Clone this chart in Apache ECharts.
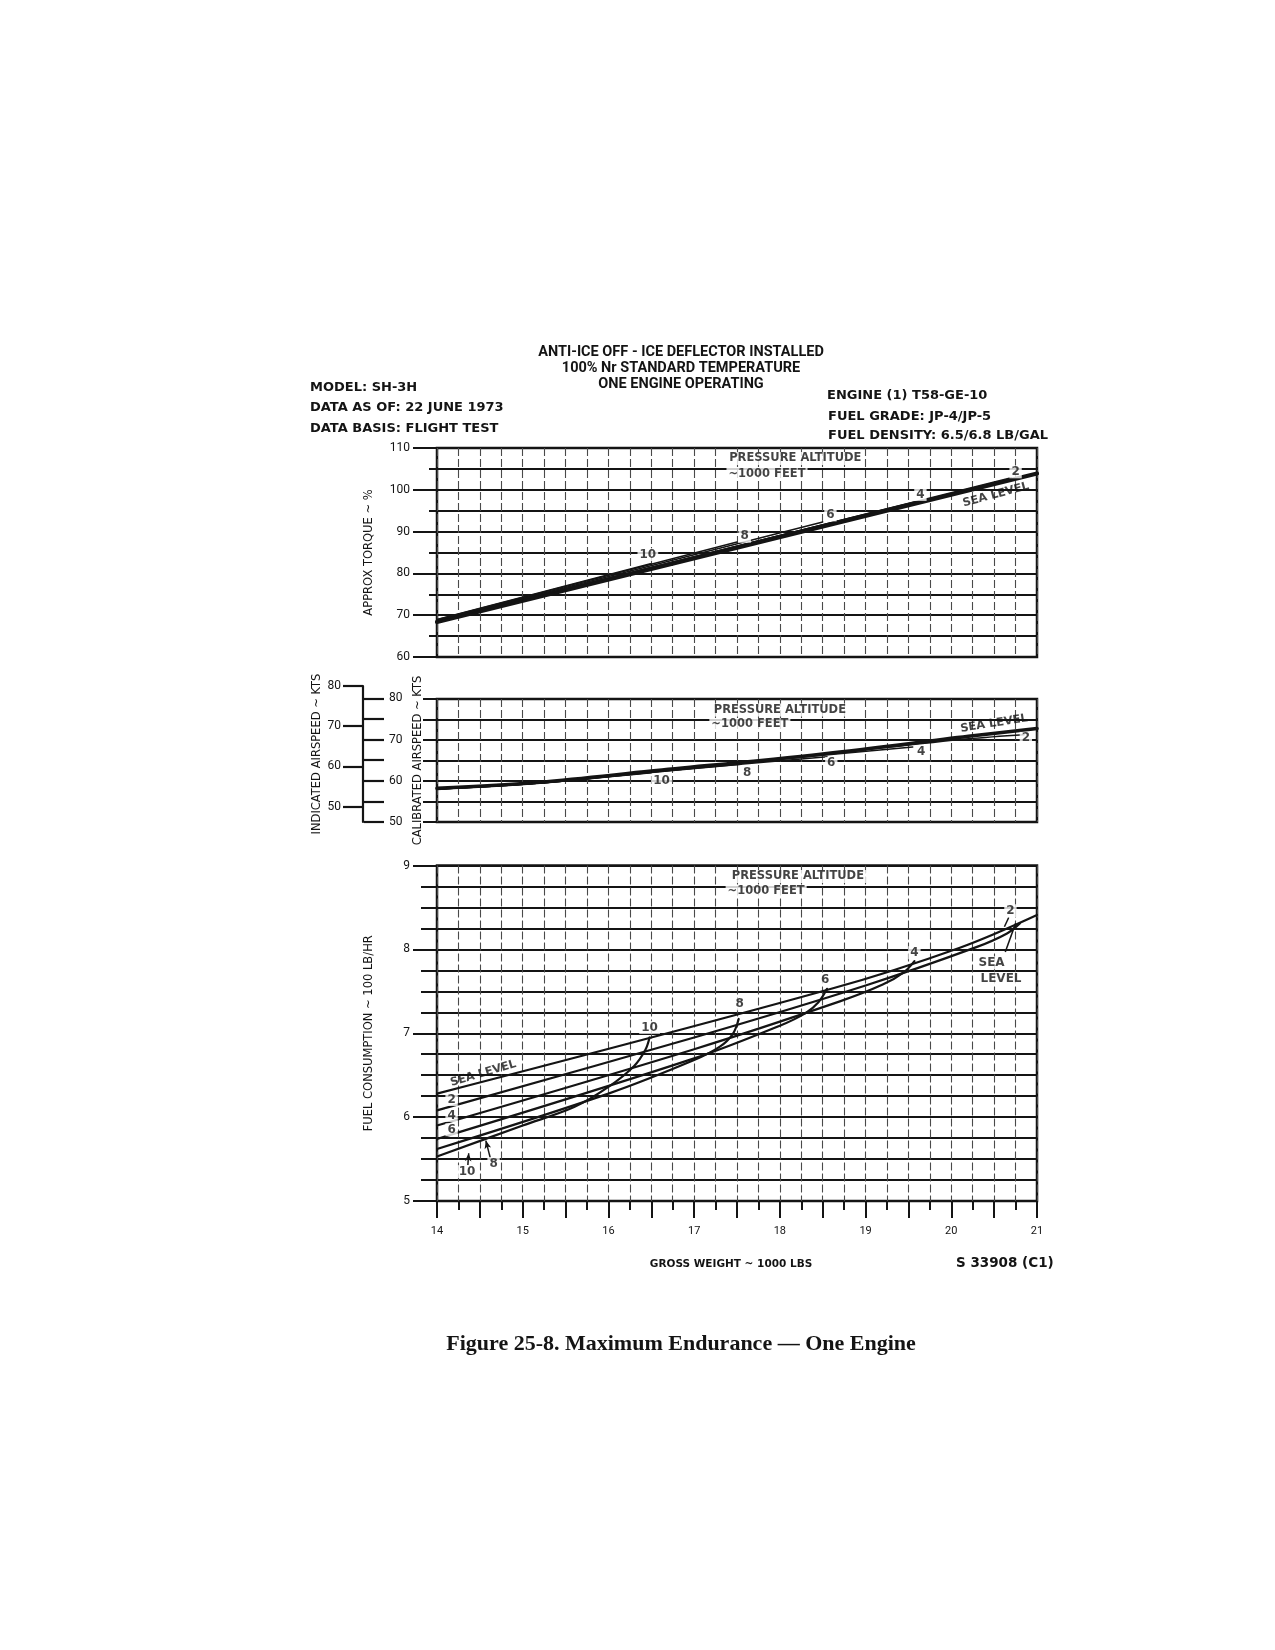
<!DOCTYPE html>
<html><head><meta charset="utf-8">
<script src="https://cdn.jsdelivr.net/npm/echarts@6.0.0/dist/echarts.min.js"></script>
<style>html,body{margin:0;padding:0;background:#fff}#c{width:1275px;height:1650px}</style>
</head><body><div id="c"></div>
<script>
// ================= DATA =================
const weightMin = 14, weightMax = 21;
const weightTicks = [14, 15, 16, 17, 18, 19, 20, 21];

// --- Approx torque (%) vs gross weight (1000 lb)
const torqueSL = [[14, 68.4], [21, 103.9]];
const torque2  = [[14, 68.6], [20.7, 102.9]];
const torque4  = [[14, 68.7], [19.57, 97.1]];
const torque6  = [[14, 68.8], [18.5, 92.3]];
const torque8  = [[14, 68.9], [17.5, 87.5]];
const torque10 = [[14, 69.0], [16.49, 82.3]];

// --- Calibrated airspeed (kts) vs gross weight
const casSL = [[14, 58.2], [15.2, 59.7], [16.5, 62.4], [18.5, 66.6], [20.2, 70.9], [21, 72.8]];
const cas2  = [[14, 58.1], [15.2, 59.6], [16.5, 62.3], [18.5, 66.5], [20.2, 70.3], [20.85, 71.3]];
const cas4  = [[14, 58.1], [15.2, 59.6], [16.5, 62.3], [18.5, 66.3], [19.55, 68.3]];
const cas6  = [[14, 58.0], [15.2, 59.5], [16.5, 62.2], [18.55, 65.9]];
const cas8  = [[14, 58.0], [15.2, 59.5], [16.5, 62.1], [17.55, 64.1]];
const cas10 = [[14, 58.0], [15.2, 59.5], [16.5, 62.0]];

// --- Fuel consumption (100 lb/hr) vs gross weight
const fuelSL = [[14, 6.28], [18.6, 7.53], [20.1, 8.02], [21, 8.41]];
const fuel2  = [[14, 6.08], [17, 6.95], [19, 7.57], [20.3, 8.03], [20.65, 8.19], [20.8, 8.31]];
const fuel4  = [[14, 5.90], [17, 6.81], [18.7, 7.38], [19.2, 7.58], [19.45, 7.73], [19.57, 7.86]];
const fuel6  = [[14, 5.74], [17, 6.70], [18.0, 7.09], [18.3, 7.24], [18.45, 7.37], [18.55, 7.53]];
const fuel8  = [[14, 5.62], [16, 6.28], [17.0, 6.68], [17.3, 6.84], [17.45, 6.99], [17.52, 7.17]];
const fuel10 = [[14, 5.53], [15, 5.90], [15.6, 6.12], [16.0, 6.36], [16.3, 6.61], [16.43, 6.80], [16.48, 6.95]];

// --- airspeed conversion scale
const iasTicks = [50, 60, 70, 80];
const casTicks = [50, 55, 60, 65, 70, 75, 80];
const casLabels = [50, 60, 70, 80];

// --- annotations [x, y, text, rotation]
const torqueNotes = [
  [18.18, 107.5, 'PRESSURE ALTITUDE', 0], [17.85, 103.8, '~1000 FEET', 0],
  [16.46, 84.5, '10', 0], [17.59, 88.9, '8', 0], [18.59, 94.0, '6', 0],
  [19.64, 98.9, '4', 0], [20.75, 104.3, '2', 0], [20.52, 98.8, 'SEA LEVEL', 15]
];
const casNotes = [
  [18.0, 77.3, 'PRESSURE ALTITUDE', 0], [17.65, 73.8, '~1000 FEET', 0],
  [16.62, 60.1, '10', 0], [17.62, 62.0, '8', 0], [18.6, 64.3, '6', 0],
  [19.65, 67.1, '4', 0], [20.87, 70.4, '2', 0], [20.5, 74.0, 'SEA LEVEL', 9]
];
const fuelNotes = [
  [18.21, 8.87, 'PRESSURE ALTITUDE', 0], [17.84, 8.69, '~1000 FEET', 0],
  [16.48, 7.07, '10', 0], [17.53, 7.35, '8', 0], [18.53, 7.64, '6', 0],
  [19.57, 7.96, '4', 0], [20.69, 8.46, '2', 0], [20.47, 7.84, 'SEA', 0], [20.58, 7.65, 'LEVEL', 0],
  [14.54, 6.52, 'SEA LEVEL', 16.5], [14.17, 6.21, '2', 0], [14.17, 6.02, '4', 0], [14.17, 5.85, '6', 0],
  [14.35, 5.35, '10', 0], [14.66, 5.44, '8', 0]
];
const fuelArrows  = [[14.36, 5.43, 14.37, 5.57], [14.62, 5.52, 14.57, 5.72]];
const fuelLeaders = [[20.63, 7.97, 20.75, 8.31], [20.67, 8.38, 20.62, 8.27]];

// ================= CHART =================
const INK = '#141414';
const NUM_FONT = 'Roboto';
const TXT_FONT = 'DejaVu Sans';

const chart = echarts.init(document.getElementById('c'), null, { renderer: 'canvas' });

const G = [
  { left: 437, top: 448, width: 600, height: 209 },     // torque
  { left: 437, top: 699, width: 600, height: 123 },     // airspeed
  { left: 437, top: 865.5, width: 600, height: 335.5 }, // fuel
  { left: 363, top: 686, width: 1, height: 136 }        // airspeed conversion scale
];
const grids = G.map(g => Object.assign({ show: g.width > 1, borderColor: INK, borderWidth: 2.5,
  backgroundColor: 'transparent', containLabel: false, outerBoundsMode: 'none' }, g));

const vGrid = { show: true, lineStyle: { color: '#4a4a4a', width: 1.1, type: [8, 3] } };
const hGrid = { show: true, lineStyle: { color: INK, width: 1.8 } };

function xAx(gi, labels) {
  return {
    type: 'value', gridIndex: gi, min: weightMin, max: weightMax, interval: 0.5,
    axisLine: { show: false },
    axisTick: { show: labels, length: 17, lineStyle: { color: INK, width: 2 } },
    minorTick: { show: labels, splitNumber: 2, length: 9, lineStyle: { color: INK, width: 2 } },
    axisLabel: { show: labels, margin: 25, fontFamily: NUM_FONT, fontSize: 11, color: INK,
      formatter: v => weightTicks.includes(v) ? String(v) : '' },
    splitLine: vGrid, minorSplitLine: vGrid
  };
}
const nameStyle = { fontFamily: TXT_FONT, fontSize: 11.5, color: INK };
const numLabel = { fontFamily: NUM_FONT, fontSize: 12, color: INK };

const yAxes = [
  { type: 'value', gridIndex: 0, min: 60, max: 110, interval: 10,
    axisLine: { show: false },
    axisTick: { show: true, length: 24, lineStyle: { color: INK, width: 2 } },
    minorTick: { show: true, splitNumber: 2, length: 8, lineStyle: { color: INK, width: 2 } },
    axisLabel: Object.assign({ margin: 27 }, numLabel),
    splitLine: hGrid, minorSplitLine: hGrid,
    name: 'APPROX TORQUE ~ %', nameLocation: 'middle', nameRotate: 90, nameGap: 62, nameTextStyle: nameStyle },
  { type: 'value', gridIndex: 1, min: 50, max: 80, interval: 5,
    axisLine: { show: false },
    axisTick: { show: true, length: 14, lineStyle: { color: INK, width: 2 } },
    axisLabel: { show: false },
    splitLine: hGrid,
    name: 'CALIBRATED AIRSPEED ~ KTS', nameLocation: 'middle', nameRotate: 90, nameGap: 13, nameTextStyle: nameStyle },
  { type: 'value', gridIndex: 2, min: 5, max: 9, interval: 1,
    axisLine: { show: false },
    axisTick: { show: true, length: 24, lineStyle: { color: INK, width: 2 } },
    minorTick: { show: true, splitNumber: 4, length: 16, lineStyle: { color: INK, width: 2 } },
    axisLabel: Object.assign({ margin: 27 }, numLabel),
    splitLine: hGrid, minorSplitLine: hGrid,
    name: 'FUEL CONSUMPTION ~ 100 LB/HR', nameLocation: 'middle', nameRotate: 90, nameGap: 62, nameTextStyle: nameStyle },
  // indicated airspeed (left side of the conversion scale)
  { type: 'value', gridIndex: 3, position: 'left', min: 46.17, max: 80,
    axisLine: { show: true, lineStyle: { color: INK, width: 2.2 } },
    axisTick: { show: true, length: 20, customValues: iasTicks, lineStyle: { color: INK, width: 2.2 } },
    axisLabel: Object.assign({ margin: 22, customValues: iasTicks }, numLabel),
    splitLine: { show: false },
    name: 'INDICATED AIRSPEED ~ KTS', nameLocation: 'middle', nameRotate: 90, nameGap: 40, nameTextStyle: nameStyle },
  // calibrated airspeed (right side of the conversion scale)
  { type: 'value', gridIndex: 3, position: 'right', min: 50, max: 83,
    axisLine: { show: false },
    axisTick: { show: true, length: 20, customValues: casTicks, lineStyle: { color: INK, width: 2.2 } },
    axisLabel: Object.assign({ margin: 25, customValues: casLabels }, numLabel),
    splitLine: { show: false } }
];

const xAxes = [xAx(0, false), xAx(1, false), xAx(2, true),
  { type: 'value', gridIndex: 3, min: 0, max: 1, show: false }];

function curve(data, gi, width) {
  return { type: 'line', xAxisIndex: gi, yAxisIndex: gi, data: data, showSymbol: false, symbol: 'none',
    smooth: 0.35, silent: true, z: 3,
    lineStyle: { color: INK, width: width, cap: 'round', join: 'round' } };
}
function notes(items, gi) {
  return { type: 'scatter', xAxisIndex: gi, yAxisIndex: gi, symbolSize: 0, silent: true, z: 6,
    data: items.map(n => ({ value: [n[0], n[1]],
      label: { formatter: n[2], rotate: n[3],
        backgroundColor: n[3] ? 'transparent' : '#fff',
        fontSize: n[2].length > 6 ? 11.5 : 12 } })),
    label: { show: true, position: 'inside', color: INK, fontFamily: TXT_FONT, fontWeight: 'bold',
      padding: [0, 2], lineHeight: 13 } };
}

const series = [
  curve(torqueSL, 0, 4.2), curve(torque2, 0, 1.5), curve(torque4, 0, 1.5),
  curve(torque6, 0, 1.5), curve(torque8, 0, 1.5), curve(torque10, 0, 1.5),
  curve(casSL, 1, 3.6), curve(cas2, 1, 1.5), curve(cas4, 1, 1.5),
  curve(cas6, 1, 1.5), curve(cas8, 1, 1.5), curve(cas10, 1, 1.5),
  curve(fuelSL, 2, 2.2), curve(fuel2, 2, 2.2), curve(fuel4, 2, 2.2),
  curve(fuel6, 2, 2.2), curve(fuel8, 2, 2.2), curve(fuel10, 2, 2.2),
  notes(torqueNotes, 0), notes(casNotes, 1),
  Object.assign(notes(fuelNotes, 2), {
    markLine: { silent: true, animation: false, symbolSize: [5, 8], label: { show: false },
      lineStyle: { color: INK, width: 1.5, type: 'solid' },
      data: fuelArrows.map(a => [{ coord: [a[0], a[1]], symbol: 'none' }, { coord: [a[2], a[3]], symbol: 'arrow' }])
        .concat(fuelLeaders.map(a => [{ coord: [a[0], a[1]], symbol: 'none' }, { coord: [a[2], a[3]], symbol: 'none' }])) }
  })
];

const T = (text, x, y, font, align) => ({ type: 'text', x: x, y: y, silent: true,
  style: { text: text, fill: INK, font: font, textAlign: align || 'left', align: align || 'left',
    textVerticalAlign: 'middle', verticalAlign: 'middle' } });
const HEAD = 'bold 14.5px Roboto';
const INFO = 'bold 13px "DejaVu Sans"';

chart.setOption({
  animation: false,
  backgroundColor: '#fff',
  grid: grids,
  xAxis: xAxes,
  yAxis: yAxes,
  series: series,
  graphic: [
    T('ANTI-ICE OFF - ICE DEFLECTOR INSTALLED', 681, 352, HEAD, 'center'),
    T('100% Nr STANDARD TEMPERATURE', 681, 368, HEAD, 'center'),
    T('ONE ENGINE OPERATING', 681, 384, HEAD, 'center'),
    T('MODEL: SH-3H', 310, 388, INFO),
    T('DATA AS OF: 22 JUNE 1973', 310, 407.5, INFO),
    T('DATA BASIS: FLIGHT TEST', 310, 429, INFO),
    T('ENGINE (1) T58-GE-10', 827, 396, INFO),
    T('FUEL GRADE: JP-4/JP-5', 828, 416.5, INFO),
    T('FUEL DENSITY: 6.5/6.8 LB/GAL', 828, 436, INFO),
    T('GROSS WEIGHT ~ 1000 LBS', 731, 1264, 'bold 10.5px "DejaVu Sans"', 'center'),
    T('S 33908 (C1)', 956, 1263, 'bold 13.5px "DejaVu Sans"'),
    T('Figure 25-8. Maximum Endurance \u2014 One Engine', 681, 1344, 'bold 22px "Liberation Serif"', 'center')
  ]
});
</script>
</body></html>
